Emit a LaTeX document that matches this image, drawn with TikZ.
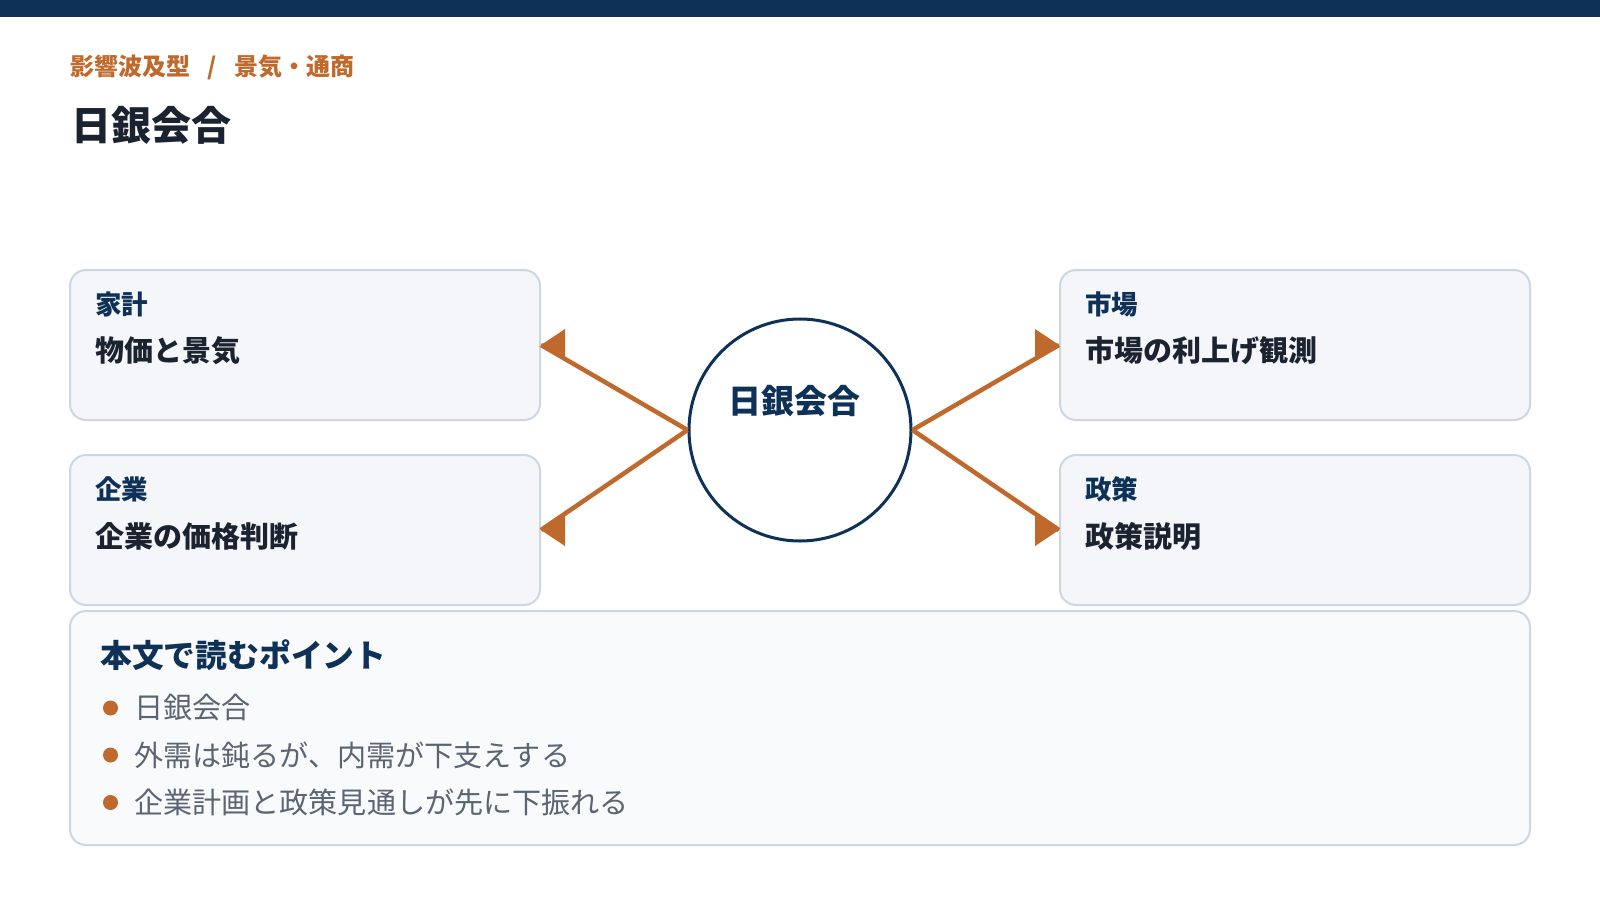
\documentclass[tikz,border=0pt]{standalone}
\usepackage{fontspec}
\setmainfont{Noto Sans CJK JP}
\definecolor{navy}{HTML}{0E3158}
\definecolor{accent}{HTML}{C0692C}
\definecolor{boxfill}{HTML}{F4F6FA}
\definecolor{boxline}{HTML}{CDD6E3}
\definecolor{panelfill}{HTML}{F9FAFC}
\definecolor{ink}{HTML}{1C2330}
\definecolor{muted}{HTML}{5A6472}
\newcommand{\fsz}[1]{\fontsize{#1}{#1}\selectfont}
\tikzset{
  card/.style={draw=boxline, line width=2pt, fill=boxfill, rounded corners=16pt,
    minimum width=470pt, minimum height=150pt, inner sep=0pt},
  panel/.style={draw=boxline, line width=2pt, fill=panelfill, rounded corners=16pt,
    minimum width=1460pt, minimum height=234pt, inner sep=0pt},
  cardlabel/.style={anchor=west, inner sep=0pt, text=navy, font=\fsz{26.5}\bfseries},
  cardvalue/.style={anchor=west, inner sep=0pt, text=ink, font=\fsz{29}\bfseries},
  conn/.style={draw=accent, line width=4.5pt},
  tipfill/.style={fill=accent},
  bulletdot/.style={circle, fill=accent, minimum size=15pt, inner sep=0pt},
  bullettext/.style={anchor=west, inner sep=0pt, text=muted, font=\fsz{29.1}},
}
\begin{document}
\begin{tikzpicture}[x=1pt, y=-1pt]
\useasboundingbox (0,0) rectangle (1600,900);
\fill[white] (0,0) rectangle (1600,900);
\fill[navy] (0,0) rectangle (1600,16.5);

% header
\node[anchor=west, inner sep=0pt, text=accent, font=\fsz{24}\bfseries] (crumb) at (70,67)
  {影響波及型\hspace{17.6pt}/\hspace{17.6pt}景気・通商};
\node[anchor=west, inner sep=0pt, text=ink, font=\fsz{40}\bfseries] (title) at (71,125.5) {日銀会合};

% cards
\node[card] (b1) at (305,345) {};
\node[card] (b2) at (305,530) {};
\node[card] (b3) at (1295,345) {};
\node[card] (b4) at (1295,530) {};

\node[cardlabel] (b1l) at (95,304) {家計};
\node[cardvalue] (b1v) at (95,351) {物価と景気};
\node[cardlabel] (b2l) at (95,489) {企業};
\node[cardvalue] (b2v) at (95,536) {企業の価格判断};
\node[cardlabel] (b3l) at (1085,304) {市場};
\node[cardvalue] (b3v) at (1085,351) {市場の利上げ観測};
\node[cardlabel] (b4l) at (1085,489) {政策};
\node[cardvalue] (b4v) at (1085,536) {政策説明};

% hub
\node[circle, draw=navy, line width=3pt, fill=white, minimum size=222pt, inner sep=0pt] (hub) at (800,430) {};
\node[inner sep=0pt, text=navy, font=\fsz{33}\bfseries] (hubtext) at (794,401) {日銀会合};

% connectors
\draw[conn] (hub.west) -- (b1.east);
\draw[conn] (hub.west) -- (b2.east);
\draw[conn] (hub.east) -- (b3.west);
\draw[conn] (hub.east) -- (b4.west);
\fill[tipfill] (b1.east) -- ++(24,-16) -- ++(0,32) -- cycle;
\fill[tipfill] (b2.east) -- ++(24,-16) -- ++(0,32) -- cycle;
\fill[tipfill] (b3.west) -- ++(-24,-16) -- ++(0,32) -- cycle;
\fill[tipfill] (b4.west) -- ++(-24,-16) -- ++(0,32) -- cycle;

% bottom panel
\node[panel] (pn) at (800,728) {};
\node[anchor=west, inner sep=0pt, text=navy, font=\fsz{31.8}\bfseries] (pnh) at (100,655) {本文で読むポイント};
\node[bulletdot] (d1) at (110.5,708) {};
\node[bulletdot] (d2) at (110.5,755) {};
\node[bulletdot] (d3) at (110.5,802.5) {};
\node[bullettext] (t1) at (134,707) {日銀会合};
\node[bullettext] (t2) at (134,755) {外需は鈍るが、内需が下支えする};
\node[bullettext] (t3) at (134,802.5) {企業計画と政策見通しが先に下振れる};
\end{tikzpicture}
\end{document}
